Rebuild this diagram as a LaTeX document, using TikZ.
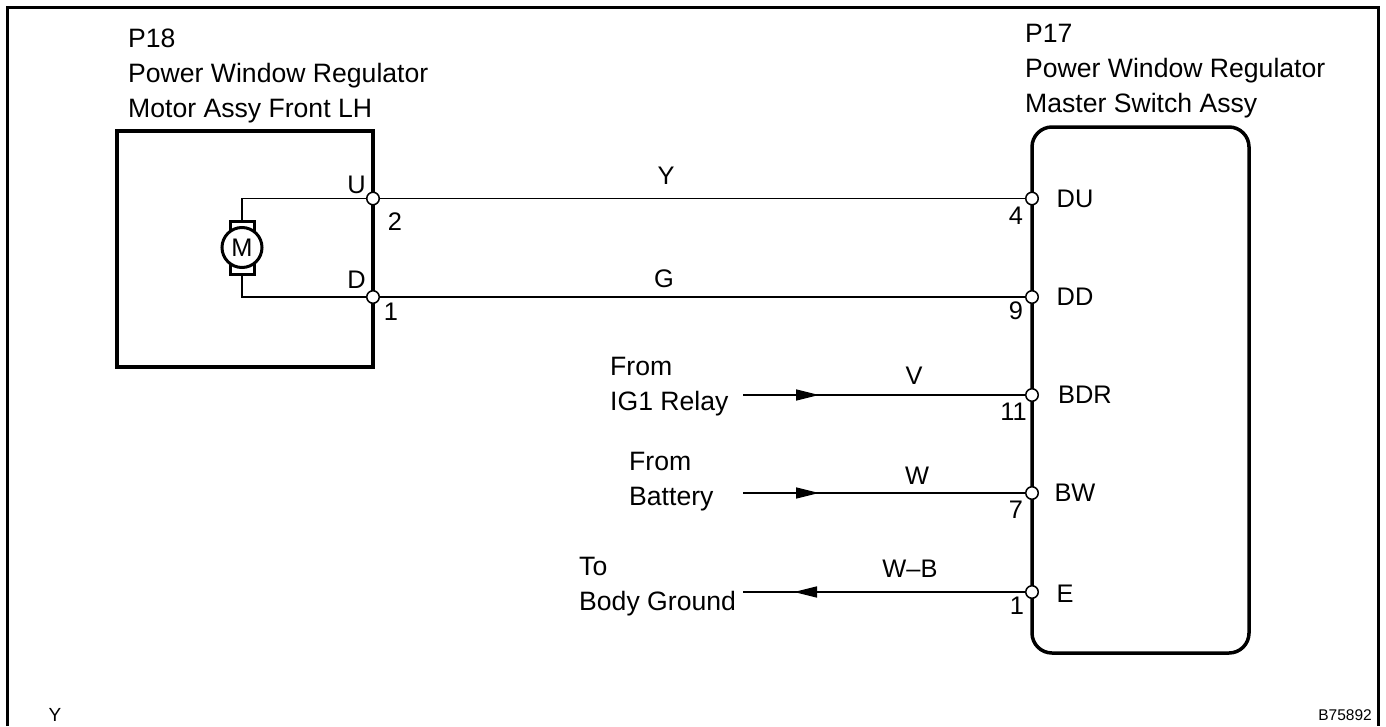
\documentclass[tikz,border=0pt]{standalone}
\usepackage{fontspec}
\setmainfont{Liberation Sans}
\usetikzlibrary{arrows.meta, positioning}

\tikzset{
    lbl/.style={inner sep=0pt, font=\fontsize{25.4}{35}\selectfont},
    multi/.style={lbl, align=left, anchor=base west, font=\fontsize{26.6}{35}\selectfont},
    wire/.style={line width=1.5pt},
    feed/.style={wire, -{Triangle[length=23pt, width=11pt]}},
    pin/.style={circle, draw, fill=white, line width=1.5pt, minimum size=12.5pt, inner sep=0pt},
    unitbox/.style={draw, line width=3.5pt, inner sep=0pt}
}

\begin{document}
\begin{tikzpicture}[x=1pt, y=-1pt]
    \useasboundingbox (0, 0) rectangle (1386, 726);
    \coordinate (fl) at (7, 726);
    \coordinate (fr) at (1378.5, 726);
    \draw[line width=3pt] (fl) |- (1378.5, 7) -- (fr);

    \node[multi] (motorname) at (128, 117) {P18\\Power Window Regulator\\Motor Assy Front LH};
    \node[multi] (switchname) at (1025, 112) {P17\\Power Window Regulator\\Master Switch Assy};

    \node[unitbox, minimum width=256pt, minimum height=236pt] (motorbox) at (245, 249) {};
    \node[unitbox, rounded corners=20pt, minimum width=217pt, minimum height=526pt] (switchbox) at (1140.5, 390) {};

    \node[draw, line width=3pt, minimum width=24pt, minimum height=53pt, inner sep=0pt] (brush) at (242, 247.5) {};
    \node[circle, draw, fill=white, line width=3pt, minimum size=40pt, inner sep=0pt, lbl] (m) at (242, 247.5) {M};

    \node[pin] (u) at (373, 198.5) {};
    \node[pin] (d) at (373, 297) {};
    \node[pin] (du) at (1032, 198.5) {};
    \node[pin] (dd) at (1032, 297) {};
    \node[pin] (bdr) at (1032, 395) {};
    \node[pin] (bw) at (1032, 493) {};
    \node[pin] (e) at (1032, 592) {};

    \coordinate (vs) at (743, 395);
    \coordinate (vt) at (819, 395);
    \coordinate (ws) at (743, 493);
    \coordinate (wt) at (819, 493);
    \coordinate (gs) at (743, 592);
    \coordinate (gt) at (794, 592);

    \draw[wire] (u) -| (brush);
    \draw[wire] (d) -| (brush);
    \draw[wire] (u) -- (du);
    \draw[wire] (d) -- (dd);
    \draw[wire] (vs) -- (bdr);
    \draw[feed] (vs) -- (vt);
    \draw[wire] (ws) -- (bw);
    \draw[feed] (ws) -- (wt);
    \draw[wire] (gs) -- (e);
    \draw[feed] (e) -- (gt);

    \node[lbl] (lu) at (356.5, 185) {U};
    \node[lbl] (ld) at (356.5, 280) {D};
    \node[lbl] (n2) at (395, 222) {2};
    \node[lbl] (n1) at (391, 312) {1};
    \node[lbl] (n4) at (1016, 216) {4};
    \node[lbl] (n9) at (1016, 311) {9};
    \node[lbl] (n11) at (1013.5, 412) {11};
    \node[lbl] (n7) at (1016, 510) {7};
    \node[lbl] (n1b) at (1017, 606) {1};

    \node[lbl] (ldu) at (1075, 199) {DU};
    \node[lbl] (ldd) at (1075, 297) {DD};
    \node[lbl] (lbdr) at (1085, 395) {BDR};
    \node[lbl] (lbw) at (1075, 493) {BW};
    \node[lbl] (le) at (1065, 594) {E};

    \node[lbl] (cy) at (666, 176) {Y};
    \node[lbl] (cg) at (664, 279) {G};
    \node[lbl] (cv) at (914, 376) {V};
    \node[lbl] (cw) at (917, 476) {W};
    \node[lbl] (cwb) at (910, 569) {W--B};

    \node[multi] (from1) at (610, 410) {From\\IG1 Relay};
    \node[multi] (from2) at (629, 505) {From\\Battery};
    \node[multi] (to) at (579, 610) {To\\Body Ground};

    \node[lbl, font=\fontsize{19}{20}\selectfont] (code) at (55, 715) {Y};
    \node[lbl, font=\fontsize{15.5}{18}\selectfont, anchor=base east] (fig) at (1372, 720.5) {B75892};
\end{tikzpicture}
\end{document}
